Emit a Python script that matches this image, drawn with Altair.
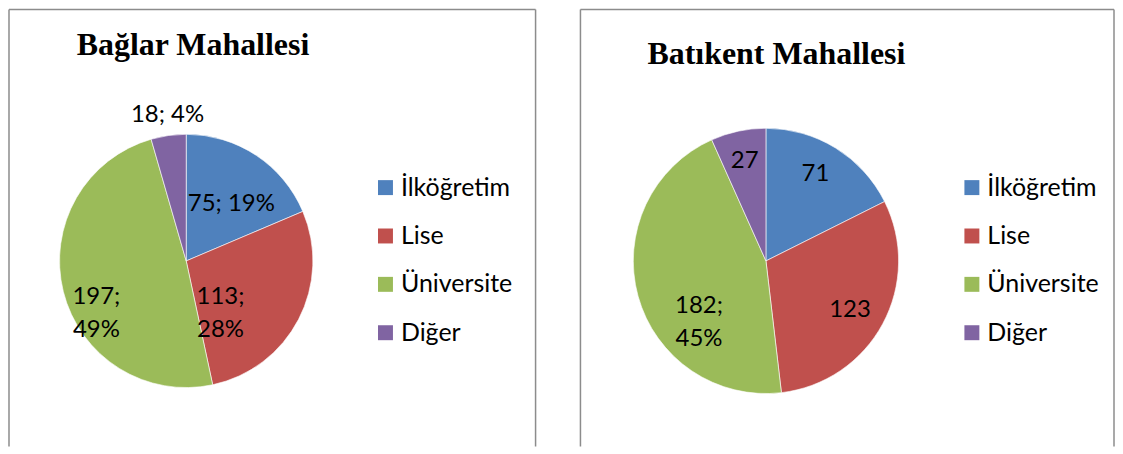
import altair as alt
import pandas as pd

categories = ["İlköğretim", "Lise", "Üniversite", "Diğer"]
colors = ["#4F81BD", "#C0504D", "#9BBB59", "#8064A2"]
titles = ["Bağlar Mahallesi", "Batıkent Mahallesi"]
baglar_values = [75, 113, 197, 18]
batikent_values = [71, 123, 182, 27]
baglar_labels = ["75; 19%", "113;\n28%", "197;\n49%", "18; 4%"]
batikent_labels = ["71", "123", "182;\n45%", "27"]

LABEL_FONT = "Lato"
BORDER = "#8c8c8c"


def panel(values, labels, title, W, H, cx, cy, R, tx, ty, label_opts, lx, ly):
    df = pd.DataFrame({"cat": categories, "value": values, "label": labels,
                       "order": list(range(len(categories)))})
    base = alt.Chart(df)
    color = alt.Color(
        "cat:N",
        scale=alt.Scale(domain=categories, range=colors),
        sort=categories,
        legend=alt.Legend(
            orient="none", legendX=lx, legendY=ly, title=None,
            symbolType="square", symbolSize=225, symbolStrokeWidth=0,
            labelFont=LABEL_FONT, labelFontSize=25, labelColor="black",
            rowPadding=22.5, labelOffset=3, labelLimit=300,
        ),
    )
    theta = alt.Theta("value:Q", stack=True)
    order = alt.Order("order:Q")
    arc = base.mark_arc(radius=R, stroke="white", strokeWidth=0.6).encode(
        theta=theta, color=color, order=order,
        x=alt.value(cx), y=alt.value(cy),
    )
    layers = [arc]
    for cat, (r, dx, dy) in zip(categories, label_opts):
        t = base.mark_text(
            radius=r, dx=dx, dy=dy, font=LABEL_FONT, fontSize=24,
            lineBreak="\n", lineHeight=33, align="center", baseline="middle",
            color="black",
        ).encode(
            theta=theta, order=order, detail="cat:N",
            text=alt.condition(alt.datum.cat == cat, alt.Text("label:N"), alt.value("")),
            x=alt.value(cx), y=alt.value(cy),
        )
        layers.append(t)
    tdf = pd.DataFrame({"t": [title]})
    title_mark = alt.Chart(tdf).mark_text(
        font="Liberation Serif", fontSize=32, fontWeight="bold",
        align="center", baseline="alphabetic", color="black",
    ).encode(text="t:N", x=alt.value(tx), y=alt.value(ty))
    layers.append(title_mark)
    bdf = pd.DataFrame({"k": [0]})
    rule = alt.Chart(bdf).mark_rule(color=BORDER, strokeWidth=1.5)
    layers += [
        rule.encode(x=alt.value(0), x2=alt.value(W), y=alt.value(0)),
        rule.encode(x=alt.value(0), y=alt.value(0), y2=alt.value(H)),
        rule.encode(x=alt.value(W), y=alt.value(0), y2=alt.value(H)),
    ]
    return alt.layer(*layers).properties(width=W, height=H)


left = panel(baglar_values, baglar_labels, titles[0], 528, 438, 177.7, 252, 127,
             184.5, 46,
             [(73, 5, 4), (50, -10, 13), (97, 4, 13), (148, 2, 0)], 365, 166)
right = panel(batikent_values, batikent_labels, titles[1], 535, 438, 186, 252, 133,
              196.5, 55,
              [(100, -3, -2), (98, -2, 3), (81, 11, 24), (102, 0, 0)], 380, 166)

chart = (
    alt.hconcat(left, right, spacing=43)
    .resolve_scale(color="independent", theta="independent")
    .configure_view(stroke=None)
    .properties(padding=0, background="white")
)

chart.save("out.html", embed_options={"renderer": "svg", "actions": False})
